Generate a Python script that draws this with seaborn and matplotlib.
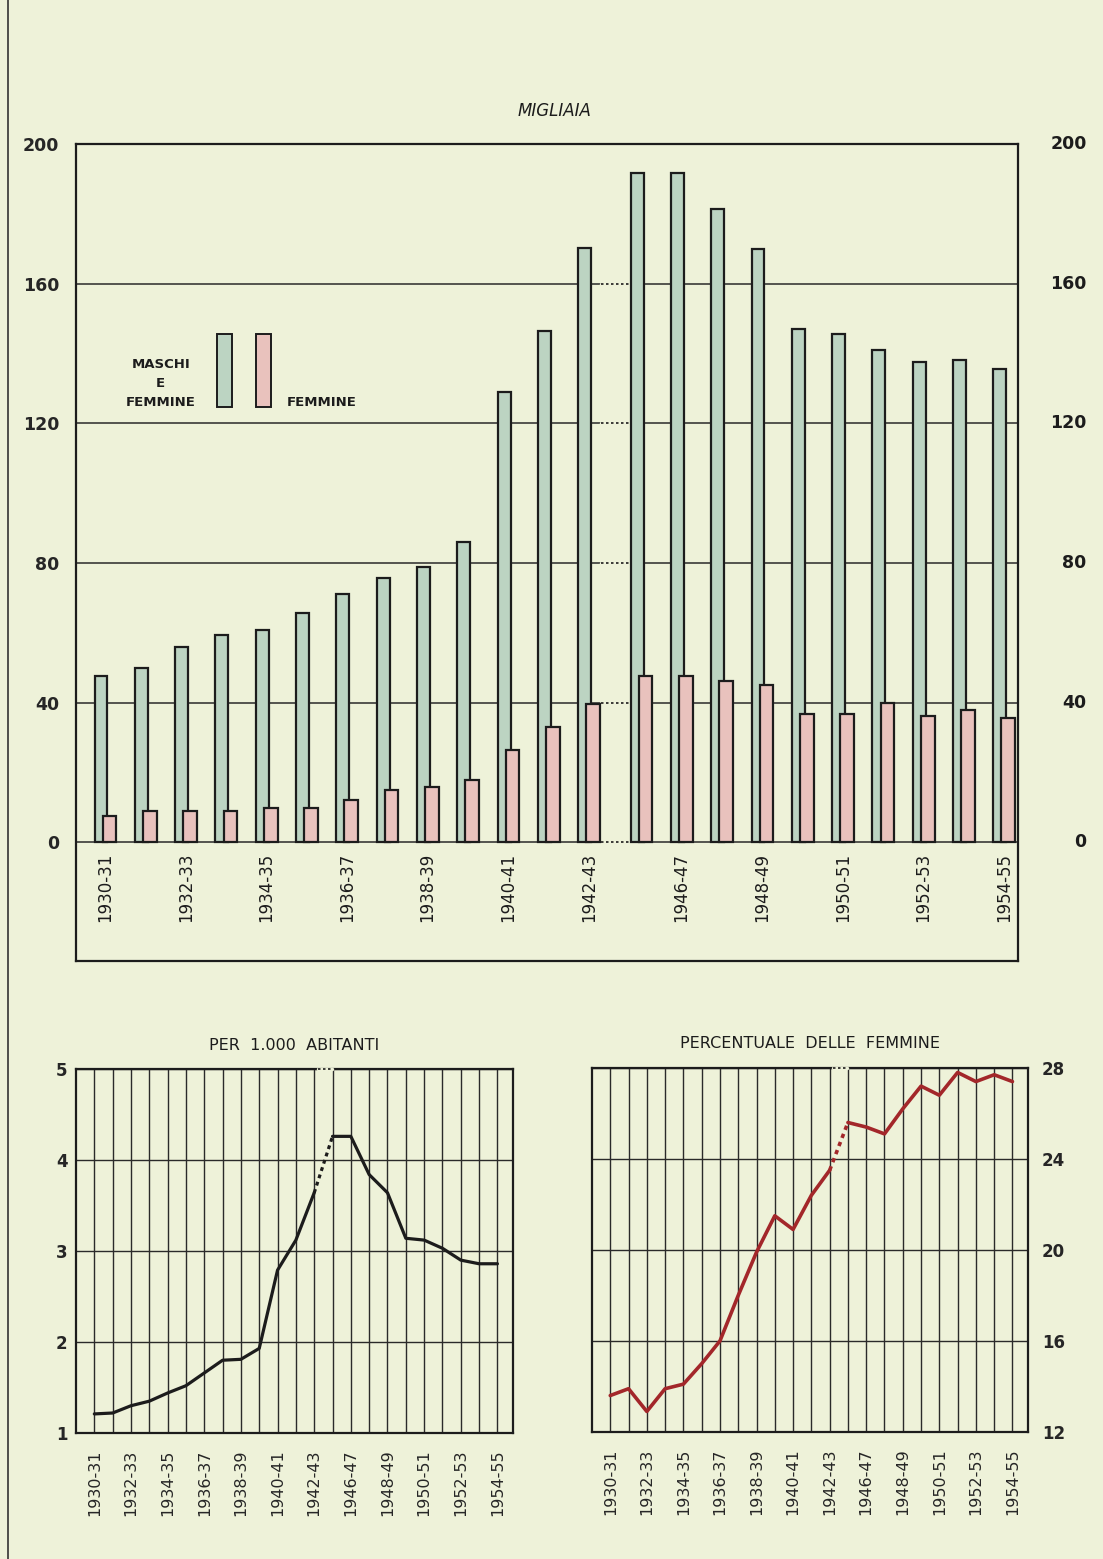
import numpy as np
import pandas as pd
import seaborn as sns
import matplotlib.pyplot as plt
from matplotlib.patches import Rectangle
from matplotlib.lines import Line2D

# Dati (migliaia, per 1.000 abitanti, % femmine)
periodi = ['1930-31', '1931-32', '1932-33', '1933-34', '1934-35', '1935-36',
           '1936-37', '1937-38', '1938-39', '1939-40', '1940-41', '1941-42',
           '1942-43', '1945-46', '1946-47', '1947-48', '1948-49', '1949-50',
           '1950-51', '1951-52', '1952-53', '1953-54', '1954-55']
totale = [47.6, 49.8, 55.8, 59.3, 60.9, 65.8, 71.1, 75.8, 78.9, 85.9, 129.0, 146.4,
          170.2, 191.6, 191.6, 181.5, 169.9, 147.0, 145.5, 141.0, 137.6, 138.1, 135.5]
femmine = [7.5, 9.0, 9.0, 9.0, 9.9, 9.8, 12.0, 14.9, 15.8, 17.9, 26.4, 33.0,
           39.7, 47.7, 47.7, 46.1, 45.0, 36.8, 36.8, 39.9, 36.2, 37.8, 35.6]
per_mille = [1.21, 1.22, 1.30, 1.35, 1.44, 1.52, 1.66, 1.80, 1.81, 1.93, 2.79, 3.12,
             3.64, 4.26, 4.26, 3.84, 3.64, 3.14, 3.12, 3.03, 2.90, 2.86, 2.86]
perc_femmine = [13.6, 13.9, 12.9, 13.9, 14.1, 15.0, 16.0, 18.0, 19.9, 21.5, 20.9, 22.4,
                23.5, 25.6, 25.4, 25.1, 26.2, 27.2, 26.8, 27.8, 27.4, 27.7, 27.4]
etichette = ['1930-31', '1932-33', '1934-35', '1936-37', '1938-39', '1940-41', '1942-43',
             '1946-47', '1948-49', '1950-51', '1952-53', '1954-55']

sns.set_theme(style='white')
plt.rcParams['font.family'] = ['DejaVu Sans']

carta = '#eef2d9'
verde = '#bcd4c2'
rosa = '#e9c2bd'
nero = '#1c1c1c'
rosso = '#a3272a'

n = len(periodi)
idx = np.arange(n)
pos = idx + np.where(idx >= 13, 0.3, 0.0)   # interruzione anni di guerra
df = pd.DataFrame({'periodo': periodi, 'idx': idx, 'pos': pos, 'pos_f': pos + 0.21,
                   'totale': totale, 'femmine': femmine,
                   'per_mille': per_mille, 'perc': perc_femmine})
lab_idx = [periodi.index(e) for e in etichette]

fig = plt.figure(figsize=(11.03, 15.59), dpi=100, facecolor=carta)
fig.add_artist(Line2D([8 / 1103, 8 / 1103], [0, 1], color='#333', lw=1.2))

# ---- grafico a barre (migliaia) ----
ax = fig.add_axes([0.0689, 0.3836, 0.854, 0.524])
ax.set_facecolor(carta)
for v in [0, 40, 80, 120, 160]:
    ax.axhline(v, color='#2a2a2a', lw=1.1, zorder=0)
sns.barplot(data=df, x='pos', y='totale', native_scale=True, width=0.32, color=verde,
            saturation=1, edgecolor=nero, linewidth=1.6, errorbar=None, ax=ax, zorder=2)
sns.barplot(data=df, x='pos_f', y='femmine', native_scale=True, width=0.34, color=rosa,
            saturation=1, edgecolor=nero, linewidth=1.6, errorbar=None, ax=ax, zorder=3)
ax.set_xlim(-0.62, 22.75)
ax.set_ylim(-34, 200)
ax.set_xticks([])
ax.set_xlabel('')
ax.set_ylabel('')
ax.set_yticks([0, 40, 80, 120, 160, 200])
ax.tick_params(axis='y', left=False, labelsize=12.5, pad=6)
for lbl in ax.get_yticklabels():
    lbl.set_fontweight('bold')
tr = ax.get_yaxis_transform()
for v in [0, 40, 80, 120, 160, 200]:
    ax.text(1.073, v, str(v), transform=tr, ha='right', va='center',
            fontsize=12.5, fontweight='bold', color=nero)
for s in ax.spines.values():
    s.set_color(nero)
    s.set_linewidth(1.6)

# tratto punteggiato sull'interruzione
gap0, gap1 = pos[12] + 0.4, pos[13] - 0.2
for v in [0, 40, 80, 120, 160, 200]:
    ax.plot([gap0, gap1], [v, v], color=carta, lw=2.5, zorder=1, clip_on=False)
    ax.plot([gap0, gap1], [v, v], color=nero, lw=1.2, ls=(0, (1.5, 1.5)), zorder=1,
            clip_on=False)

for i, e in zip(lab_idx, etichette):
    ax.text(pos[i] + 0.1, -3, e, rotation=90, ha='center', va='top',
            fontsize=12, color=nero)

# legenda
ax.add_patch(Rectangle((2.88, 124.6), 0.38, 20.9, facecolor=verde, edgecolor=nero, lw=1.4))
ax.add_patch(Rectangle((3.84, 124.6), 0.38, 20.9, facecolor=rosa, edgecolor=nero, lw=1.4))
ax.text(1.48, 131.5, 'MASCHI\nE\nFEMMINE', ha='center', va='center', fontsize=9.5,
        fontweight='bold', linespacing=1.6, color=nero)
ax.text(4.62, 126.1, 'FEMMINE', ha='left', va='center', fontsize=9.5,
        fontweight='bold', color=nero)
fig.text(0.503, 0.929, 'MIGLIAIA', ha='center', va='center', fontsize=12,
         style='italic', color=nero)


def stile_linee(a, ylim, yticks):
    a.set_facecolor(carta)
    a.set_xlim(-1.0, 22.85)
    a.set_ylim(*ylim)
    a.set_yticks(yticks)
    a.set_xticks(lab_idx)
    a.set_xticks(idx, minor=True)
    a.set_xticklabels(etichette, rotation=90, fontsize=11.5)
    a.grid(True, which='both', axis='x', color='#2a2a2a', lw=1.0)
    a.grid(True, which='major', axis='y', color='#2a2a2a', lw=1.0)
    a.tick_params(axis='both', which='both', length=0, labelsize=12)
    a.tick_params(axis='x', pad=12, labelsize=11.5)
    a.set_xlabel('')
    a.set_ylabel('')
    for s in a.spines.values():
        s.set_color(nero)
        s.set_linewidth(1.6)
    for lbl in a.get_yticklabels():
        lbl.set_fontweight('bold')


pre = df.iloc[:13]
ponte = df.iloc[12:14]
post = df.iloc[13:]

# ---- per 1.000 abitanti ----
axl = fig.add_axes([0.0689, 0.0808, 0.3962, 0.2335])
stile_linee(axl, (1, 5), [1, 2, 3, 4, 5])
sns.lineplot(data=pre, x='idx', y='per_mille', color=nero, lw=2.3, ax=axl)
sns.lineplot(data=ponte, x='idx', y='per_mille', color=nero, lw=2.3,
             linestyle=(0, (1.2, 1.2)), ax=axl)
sns.lineplot(data=post, x='idx', y='per_mille', color=nero, lw=2.3, ax=axl)
axl.set_xlabel('')
axl.set_ylabel('')
axl.tick_params(axis='y', pad=6)
axl.set_title('PER  1.000  ABITANTI', fontsize=11.5, pad=14, color=nero)

# ---- percentuale delle femmine ----
axr = fig.add_axes([0.5367, 0.0815, 0.3953, 0.2335])
stile_linee(axr, (12, 28), [12, 16, 20, 24, 28])
sns.lineplot(data=pre, x='idx', y='perc', color=rosso, lw=2.6, ax=axr)
sns.lineplot(data=ponte, x='idx', y='perc', color=rosso, lw=2.6,
             linestyle=(0, (1.2, 1.2)), ax=axr)
sns.lineplot(data=post, x='idx', y='perc', color=rosso, lw=2.6, ax=axr)
axr.set_xlabel('')
axr.set_ylabel('')
axr.tick_params(axis='y', labelleft=False, labelright=True, pad=10)
for lbl in axr.get_yticklabels(which='both'):
    lbl.set_fontweight('bold')
axr.set_title('PERCENTUALE  DELLE  FEMMINE', fontsize=11.5, pad=14, color=nero)

for a in (axl, axr):
    a.plot([12.2, 12.95], [a.get_ylim()[1]] * 2, color=carta, lw=2.5, clip_on=False, zorder=5)
    a.plot([12.2, 12.95], [a.get_ylim()[1]] * 2, color=nero, lw=1.2, ls=(0, (1.5, 1.5)),
           clip_on=False, zorder=5)

fig.savefig('out.png', dpi=100, facecolor=carta)
